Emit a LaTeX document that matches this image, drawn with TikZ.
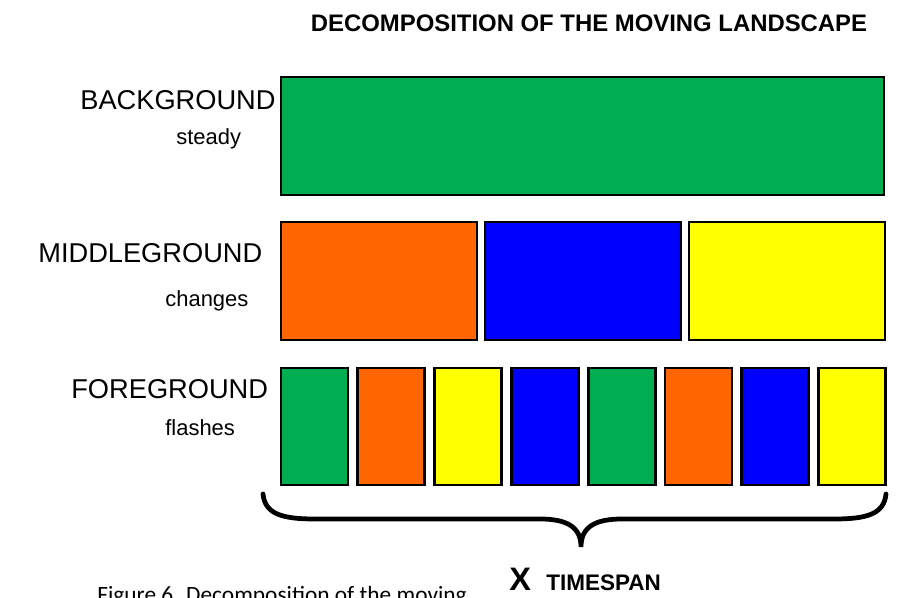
\documentclass[tikz,border=0pt]{standalone}
\usepackage{fontspec}
\setmainfont{Liberation Sans}
\newfontfamily\capfont{Carlito}

\definecolor{lgreen}{RGB}{0,173,80}
\definecolor{lorange}{RGB}{255,102,0}
\definecolor{lblue}{RGB}{0,0,255}
\definecolor{lyellow}{RGB}{255,255,0}

\begin{document}
\begin{tikzpicture}[x=0.02cm, y=-0.02cm,
    layer/.style={draw=black, line width=1.6pt, inner sep=0pt},
    lbl/.style={anchor=base west, inner sep=0pt, font=\fontsize{15.5}{18}\selectfont},
    sublbl/.style={anchor=base west, inner sep=0pt, font=\fontsize{12.5}{15}\selectfont}]
    \useasboundingbox (0,0) rectangle (903,598);

    % titulo
    \node[anchor=base, inner sep=0pt, font=\bfseries\fontsize{13.6}{16}\selectfont]
        (titulo) at (589,32) {DECOMPOSITION OF THE MOVING LANDSCAPE};

    % fondo: un solo bloque
    \node[lbl] (bgname) at (80,110) {BACKGROUND};
    \node[sublbl] (bgsub) at (176,145) {steady};
    \node[layer, fill=lgreen, minimum width=12.06cm, minimum height=2.36cm]
        (bg) at (582.5,136) {};

    % plano medio: tres bloques
    \node[lbl] (mgname) at (38,262) {MIDDLEGROUND};
    \node[sublbl] (mgsub) at (165,306) {changes};
    \foreach \c [count=\i from 0] in {lorange, lblue, lyellow}
        \node[layer, fill=\c, minimum width=3.92cm, minimum height=2.36cm]
            (mg\i) at (379+204*\i,281) {};

    % primer plano: ocho bloques
    \node[lbl] (fgname) at (71,398) {FOREGROUND};
    \node[sublbl] (fgsub) at (165,435) {flashes};
    \foreach \c [count=\i from 0] in {lgreen, lorange, lyellow, lblue, lgreen, lorange, lblue, lyellow}
        \node[layer, fill=\c, minimum width=1.34cm, minimum height=2.34cm]
            (fg\i) at (314.5+76.8*\i,426.5) {};

    % llave bajo el primer plano
    \coordinate (llaveA) at (263,494);
    \coordinate (llaveB) at (886,494);
    \coordinate (punta) at (581,547);
    \draw[line width=2.7pt, line cap=round]
        (llaveA) .. controls (265,514) and (282,519) .. (315,519)
        -- (540,519) .. controls (567,519) and (581,527) .. (punta)
        .. controls (581,527) and (595,519) .. (622,519)
        -- (834,519) .. controls (867,519) and (884,514) .. (llaveB);

    \node[anchor=base west, inner sep=0pt, font=\bfseries\fontsize{18.5}{20}\selectfont]
        (equis) at (509,590) {X};
    \node[anchor=base west, inner sep=0pt, font=\bfseries\fontsize{12.8}{14}\selectfont]
        (lapso) at (546,590) {TIMESPAN};

    % pie de figura, cortado por el borde
    \node[anchor=base west, inner sep=0pt, font=\capfont\fontsize{13.3}{16}\selectfont]
        (pie) at (97,602) {Figure 6. Decomposition of the moving};
\end{tikzpicture}
\end{document}
